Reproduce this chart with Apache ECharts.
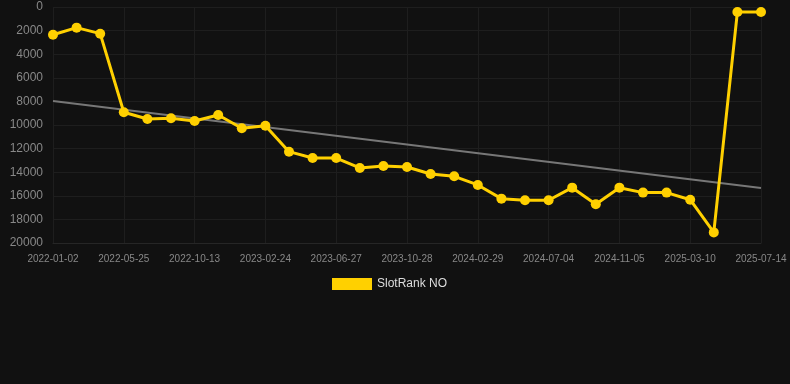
<!DOCTYPE html>
<html><head><meta charset="utf-8">
<script src="https://cdn.jsdelivr.net/npm/echarts@6/dist/echarts.min.js"></script>
<style>html,body{margin:0;padding:0;background:#111111;}#c{width:790px;height:384px;}</style>
</head><body><div id="c"></div>
<script>
var categories = ['2022-01-02','2022-02-18','2022-04-07','2022-05-25','2022-07-11','2022-08-27','2022-10-13','2022-11-29','2023-01-11','2023-02-24','2023-04-08','2023-05-15','2023-06-27','2023-08-11','2023-09-21','2023-10-28','2023-12-10','2024-01-19','2024-02-29','2024-04-12','2024-05-24','2024-07-04','2024-08-15','2024-09-26','2024-11-05','2024-12-17','2025-01-27','2025-03-10','2025-04-20','2025-06-02','2025-07-14'];
var rankValues = [2350,1750,2260,8920,9490,9430,9660,9150,10280,10060,12260,12800,12800,13640,13470,13560,14150,14350,15080,16240,16380,16380,15310,16720,15310,15730,15730,16330,19100,420,420];
var trendValues = [[0,7970],[30,15340]];
var yTicks = {min:0, max:20000, interval:2000};

var chart = echarts.init(document.getElementById('c'), null, {renderer:'canvas'});
chart.setOption({
  backgroundColor:'#111111',
  animation:false,
  grid:{left:53, right:29, top:7, bottom:141},
  legend:{
    top:273, left:327,
    data:[{name:'SlotRank NO', icon:'rect'}],
    itemWidth:40, itemHeight:12, itemGap:10,
    textStyle:{color:'#dddddd', fontSize:12, fontFamily:'Arial, Liberation Sans, sans-serif'}
  },
  xAxis:{
    type:'category', data:categories, boundaryGap:false,
    axisLine:{show:true, onZero:false, lineStyle:{color:'#262626'}},
    axisTick:{show:false},
    axisLabel:{interval:2, color:'#888888', fontSize:10, margin:11, fontFamily:'Arial, Liberation Sans, sans-serif'},
    splitLine:{show:true, interval:2, lineStyle:{color:'#1e1e1e'}}
  },
  yAxis:{
    type:'value', inverse:true, min:yTicks.min, max:yTicks.max, interval:yTicks.interval,
    axisLine:{show:false}, axisTick:{show:false},
    axisLabel:{color:'#888888', fontSize:12, margin:10, formatter:function(v){return String(v);}, fontFamily:'Arial, Liberation Sans, sans-serif'},
    splitLine:{show:true, lineStyle:{color:'#1e1e1e'}}
  },
  series:[
    {
      name:'SlotRank NO', type:'line', data:rankValues,
      color:'#FFD000',
      lineStyle:{width:3, color:'#FFD000'},
      itemStyle:{color:'#FFD000'},
      symbol:'circle', symbolSize:10, showAllSymbol:true, z:3
    },
    {
      name:'trend', type:'line', data:trendValues,
      lineStyle:{width:2, color:'#777777'}, symbol:'none', z:2
    }
  ]
});
</script></body></html>
